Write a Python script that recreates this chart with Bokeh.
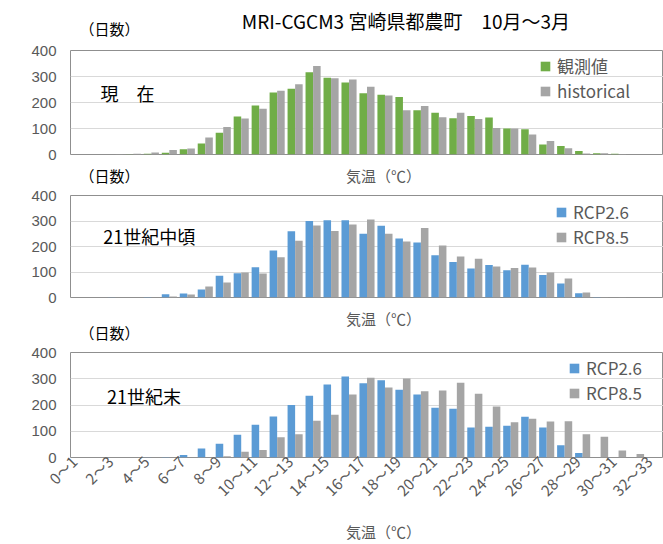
from bokeh.plotting import figure
from bokeh.models import Range1d, Label, ColumnDataSource, FixedTicker
from bokeh.transform import dodge
from bokeh.layouts import column
from bokeh.embed import file_html
from bokeh.resources import INLINE

FONT = "Noto Sans CJK JP"
NUM_FONT = "Liberation Sans"

categories = ["0～1", "1～2", "2～3", "3～4", "4～5", "5～6", "6～7", "7～8", "8～9", "9～10",
              "10～11", "11～12", "12～13", "13～14", "14～15", "15～16", "16～17", "17～18",
              "18～19", "19～20", "20～21", "21～22", "22～23", "23～24", "24～25", "25～26",
              "26～27", "27～28", "28～29", "29～30", "30～31", "31～32", "32～33"]
tick_labels = ["0～1", "2～3", "4～5", "6～7", "8～9", "10～11", "12～13", "14～15", "16～17",
               "18～19", "20～21", "22～23", "24～25", "26～27", "28～29", "30～31", "32～33"]

observed = [0, 0, 0, 1, 3, 7, 20, 42, 84, 146, 188, 238, 253, 316, 295, 277, 236, 230, 221, 170,
            161, 139, 148, 142, 100, 97, 38, 33, 13, 5, 3, 0, 0]
historical = [0, 0, 1, 3, 8, 17, 23, 65, 106, 138, 176, 245, 270, 340, 293, 288, 261, 227, 170, 187,
              143, 161, 137, 102, 100, 77, 52, 24, 4, 5, 2, 0, 0]
mid_rcp26 = [0, 0, 1, 0, 2, 13, 16, 31, 85, 95, 119, 184, 260, 300, 303, 303, 250, 281, 231, 216,
             166, 139, 114, 127, 107, 128, 88, 55, 17, 2, 0, 0, 0]
mid_rcp85 = [0, 0, 0, 0, 0, 4, 12, 43, 59, 98, 94, 158, 223, 282, 261, 286, 306, 250, 220, 273,
             204, 161, 152, 122, 116, 118, 98, 75, 20, 1, 1, 0, 0]
end_rcp26 = [0, 0, 0, 0, 1, 2, 10, 34, 52, 87, 125, 156, 200, 235, 278, 309, 283, 294, 258, 240,
             190, 186, 114, 117, 121, 155, 114, 47, 17, 0, 0, 0, 0]
end_rcp85 = [0, 0, 0, 0, 0, 0, 0, 0, 5, 22, 29, 77, 89, 140, 163, 240, 304, 267, 301, 252,
             255, 285, 243, 194, 134, 148, 137, 138, 89, 79, 27, 13, 0]

GREEN = "#70ad47"
GRAY = "#a5a5a5"
BLUE = "#5b9bd5"
TXT = "#595959"

W = 663
RIGHT = 663          # x of the frames' right edge
TICK_SHIFT = -0.3    # moves rotated labels so their end sits at the category
LEG_SIZE = 17
LEG_ROW = LEG_SIZE * 1.448   # height of one legend row (font line box)

xpos = [categories.index(c) + 0.5 for c in categories]
tick_pos = [categories.index(t) + 0.5 + TICK_SHIFT for t in tick_labels]


def strip(top, bottom, texts):
    """A text-only band between the panels; its data space is page pixels."""
    h = bottom - top
    s = figure(width=W, height=h, x_range=Range1d(0, W), y_range=Range1d(bottom, top),
               min_border=0, toolbar_location=None, x_axis_location=None,
               y_axis_location=None, output_backend="svg", title=None)
    s.outline_line_color = None
    s.xgrid.visible = False
    s.ygrid.visible = False
    for x, y, text, size, color, align in texts:
        s.add_layout(Label(x=x, y=y, text=text, text_font=FONT, text_font_size=size,
                           text_color=color, text_align=align, text_baseline="middle"))
    return s


def make_panel(top, bottom, frame_top, frame_bottom, frame_left,
               sa, la, ca, sb, lb, cb, tag, tag_y, leg_x, leg_row1, show_x):
    frame_h = frame_bottom - frame_top
    fw = RIGHT - frame_left

    def dx(px):
        return (px - frame_left) / fw * 33

    def dy(py):
        return (frame_bottom - py) / frame_h * 400

    p = figure(width=W, height=bottom - top, x_range=Range1d(0, 33), y_range=Range1d(0, 400),
               output_backend="svg", toolbar_location=None, title=None,
               x_axis_location="below" if show_x else None,
               min_border_left=frame_left, min_border_right=W - RIGHT,
               min_border_top=frame_top - top,
               min_border_bottom=bottom - frame_bottom)
    src = ColumnDataSource(dict(x=xpos, a=sa, b=sb))
    p.vbar(x=dodge("x", -0.21), top="a", width=0.42, source=src,
           fill_color=ca, line_color=None, legend_label=la)
    p.vbar(x=dodge("x", 0.21), top="b", width=0.42, source=src,
           fill_color=cb, line_color=None, legend_label=lb)

    p.outline_line_color = "#8f8f8f"
    p.outline_line_width = 1
    p.xgrid.grid_line_color = None
    p.ygrid.grid_line_color = "#d9d9d9"
    p.ygrid.ticker = [0, 100, 200, 300, 400]
    p.yaxis.ticker = [0, 100, 200, 300, 400]
    p.yaxis.axis_line_color = None
    p.yaxis.major_tick_line_color = None
    p.yaxis.minor_tick_line_color = None
    p.yaxis.major_tick_out = 0
    p.yaxis.major_label_standoff = 14
    p.yaxis.major_label_text_font = NUM_FONT
    p.yaxis.major_label_text_font_size = "15px"
    p.yaxis.major_label_text_color = TXT

    if show_x:
        ax = p.xaxis[0]
        ax.ticker = FixedTicker(ticks=tick_pos)
        ax.axis_line_color = None
        ax.major_tick_line_color = None
        ax.minor_tick_line_color = None
        ax.major_tick_out = 0
        ax.major_label_orientation = 0.785398
        ax.major_label_standoff = 1
        ax.major_label_text_font = FONT
        ax.major_label_text_font_size = "15px"
        ax.major_label_text_color = TXT
        ax.major_label_overrides = {pos: lab for pos, lab in zip(tick_pos, tick_labels)}

    leg = p.legend[0]
    leg.label_text_font = FONT
    leg.label_text_font_size = f"{LEG_SIZE}px"
    leg.label_text_color = TXT
    leg.glyph_width = 12
    leg.glyph_height = 12
    leg.label_height = 20
    leg.label_standoff = 6
    leg.spacing = 0
    leg.padding = 0
    leg.margin = 0
    leg.border_line_color = None
    leg.background_fill_alpha = 0
    box_bottom = leg_row1 - LEG_ROW / 2 + 2 * LEG_ROW
    leg.location = (leg_x - frame_left, round(frame_bottom - box_bottom))

    p.add_layout(Label(x=dx(100), y=dy(tag_y), text=tag, text_font=FONT, text_font_size="18px",
                       text_color="#000000", text_align="left", text_baseline="middle"))
    return p


UNIT = "（日数）"
XLAB = "気温（℃）"
TITLE = "MRI-CGCM3 宮崎県都農町　10月～3月"

s0 = strip(0, 42, [(375, 20, TITLE, "19px", "#000000", "center"),
                   (10, 28, UNIT, "15px", "#000000", "left")])
p1 = make_panel(42, 163, 50, 154, 70, observed, "観測値", GREEN, historical, "historical", GRAY,
                "現　在", 92, 539, 66, False)
s1 = strip(163, 187, [(350, 174.5, XLAB, "15px", TXT, "center"),
                      (10, 175, UNIT, "15px", "#000000", "left")])
p2 = make_panel(187, 306, 195, 297, 67, mid_rcp26, "RCP2.6", BLUE, mid_rcp85, "RCP8.5", GRAY,
                "21世紀中頃", 235, 552, 212, False)
s2 = strip(306, 344, [(350, 317.5, XLAB, "15px", TXT, "center"),
                      (10, 332, UNIT, "15px", "#000000", "left")])
p3 = make_panel(344, 519, 352, 457, 63, end_rcp26, "RCP2.6", BLUE, end_rcp85, "RCP8.5", GRAY,
                "21世紀末", 395, 561, 368, True)
s3 = strip(519, 544, [(350, 531, XLAB, "15px", TXT, "center")])

layout = column(s0, p1, s1, p2, s2, p3, s3, spacing=0)
open("out.html", "w").write(file_html(layout, INLINE))
